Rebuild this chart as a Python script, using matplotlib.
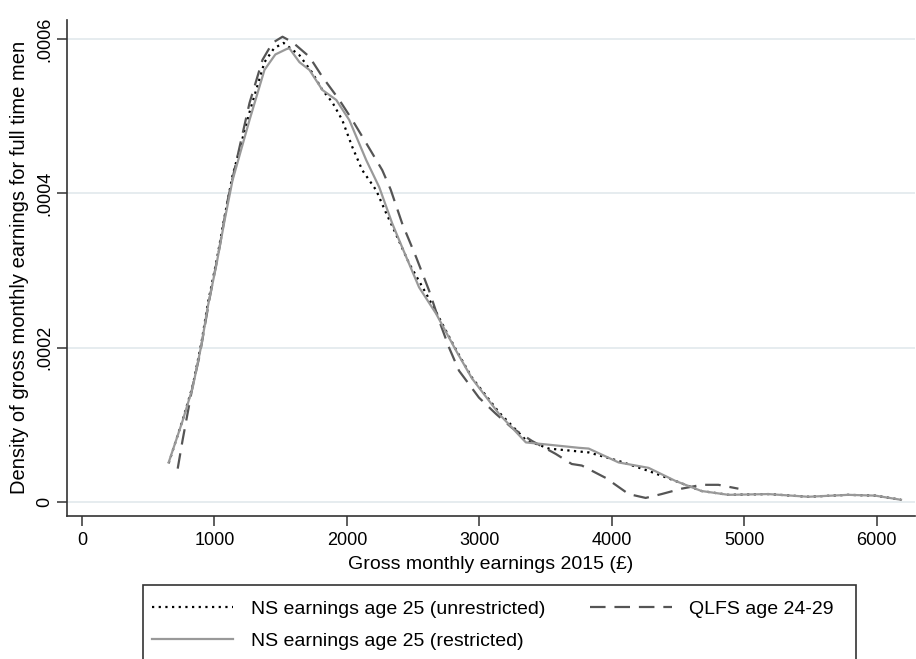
import matplotlib
matplotlib.use("Agg")
import matplotlib.pyplot as plt
from matplotlib.patches import Rectangle

plt.rcParams['font.family'] = ['Liberation Sans', 'DejaVu Sans']

# NS earnings age 25 (unrestricted) - dotted
unres_x = [655, 760, 836, 904, 949, 1017, 1077, 1137, 1265, 1378, 1450, 1522, 1642, 1740,
           1815, 1890, 1965, 2041, 2116, 2221, 2297, 2357, 2470, 2598, 2673, 2824, 2944,
           3148, 3351, 3524, 3825, 4051, 4277, 4480, 4676, 4880, 5181, 5482, 5783, 5987,
           6182]
unres_y = [5.0e-5, 1.06e-4, 1.50e-4, 2.08e-4, 2.56e-4, 3.13e-4, 3.70e-4, 4.23e-4, 5.05e-4,
           5.70e-4, 5.88e-4, 5.95e-4, 5.79e-4, 5.56e-4, 5.34e-4, 5.18e-4, 4.95e-4, 4.60e-4,
           4.30e-4, 4.04e-4, 3.74e-4, 3.52e-4, 3.09e-4, 2.70e-4, 2.46e-4, 1.97e-4, 1.61e-4,
           1.16e-4, 8.0e-5, 6.9e-5, 6.4e-5, 5.3e-5, 4.0e-5, 2.7e-5, 1.4e-5, 9e-6, 1.0e-5,
           6.5e-6, 9e-6, 8e-6, 2.6e-6]

# NS earnings age 25 (restricted) - solid grey
res_x = [655, 760, 836, 904, 949, 1017, 1077, 1137, 1265, 1378, 1460, 1544, 1566, 1642,
         1717, 1815, 1920, 2018, 2146, 2244, 2342, 2417, 2545, 2673, 2824, 2944, 3148,
         3351, 3524, 3750, 3825, 4051, 4277, 4480, 4676, 4880, 5181, 5482, 5783, 5987,
         6182]
res_y = [5.1e-5, 1.05e-4, 1.48e-4, 2.05e-4, 2.52e-4, 3.09e-4, 3.65e-4, 4.17e-4, 4.95e-4,
         5.60e-4, 5.80e-4, 5.87e-4, 5.88e-4, 5.70e-4, 5.60e-4, 5.34e-4, 5.21e-4, 4.95e-4,
         4.43e-4, 4.08e-4, 3.61e-4, 3.30e-4, 2.78e-4, 2.44e-4, 1.96e-4, 1.60e-4, 1.14e-4,
         7.7e-5, 7.4e-5, 7.0e-5, 6.9e-5, 5.1e-5, 4.4e-5, 2.7e-5, 1.4e-5, 9e-6, 1.0e-5,
         6.5e-6, 9e-6, 8e-6, 2.6e-6]

# QLFS age 24-29 - dashed
qlfs_x = [723, 760, 836, 889, 964, 1039, 1099, 1190, 1265, 1363, 1438, 1514, 1589, 1717,
          1815, 1943, 2041, 2146, 2267, 2330, 2417, 2523, 2620, 2696, 2771, 2846, 2997,
          3125, 3245, 3396, 3577, 3697, 3773, 3953, 4127, 4255, 4375, 4526, 4676, 4804,
          4955]
qlfs_y = [4.3e-5, 8.0e-5, 1.50e-4, 1.90e-4, 2.64e-4, 3.30e-4, 3.90e-4, 4.60e-4, 5.17e-4,
          5.73e-4, 5.95e-4, 6.03e-4, 5.96e-4, 5.77e-4, 5.51e-4, 5.21e-4, 4.95e-4, 4.65e-4,
          4.30e-4, 4.05e-4, 3.61e-4, 3.17e-4, 2.74e-4, 2.35e-4, 2.0e-4, 1.70e-4, 1.35e-4,
          1.14e-4, 9.6e-5, 7.9e-5, 6.2e-5, 4.9e-5, 4.7e-5, 3.1e-5, 1.0e-5, 5e-6, 1.0e-5,
          1.7e-5, 2.2e-5, 2.2e-5, 1.7e-5]

x_ticks = [0, 1000, 2000, 3000, 4000, 5000, 6000]
y_ticks = [0, 0.0002, 0.0004, 0.0006]
y_tick_labels = ['0', '.0002', '.0004', '.0006']

fig = plt.figure(figsize=(9.16, 6.59), dpi=100)
ax = fig.add_axes([0.0735, 0.2175, 0.925, 0.7525])

l1, = ax.plot(unres_x, unres_y, color='black', lw=1.6, linestyle=(0, (1, 2)),
              label='NS earnings age 25 (unrestricted)')
l3, = ax.plot(qlfs_x, qlfs_y, color='#555555', lw=1.6, linestyle=(0, (7, 4)),
              label='QLFS age 24-29')
l2, = ax.plot(res_x, res_y, color='#999999', lw=1.6,
              label='NS earnings age 25 (restricted)')

ax.set_xlim(-110, 6285)
ax.set_ylim(-1.8e-5, 6.25e-4)
ax.set_xticks(x_ticks)
ax.set_yticks(y_ticks)
ax.set_yticklabels(y_tick_labels, rotation=90, va='center')
ax.grid(axis='y', color='#e6ecef', lw=1.4)
ax.set_axisbelow(True)
for s in ['top', 'right']:
    ax.spines[s].set_visible(False)
for s in ['left', 'bottom']:
    ax.spines[s].set_color('#333333')
    ax.spines[s].set_linewidth(1.2)
ax.tick_params(labelsize=13, length=7, width=1.1, color='#333333')
ax.tick_params(axis='x', pad=5)
ax.tick_params(axis='y', pad=3)
ax.set_xlabel('Gross monthly earnings 2015 (£)', fontsize=14, labelpad=5)
ax.set_ylabel('Density of gross monthly earnings for full time men', fontsize=14.5,
              labelpad=5)

fig.legend(handles=[l1, l2, l3], loc='upper left', bbox_to_anchor=(0.157, 0.101),
           ncol=2, frameon=False, fontsize=14, handlelength=4.2,
           columnspacing=2.3, handletextpad=0.9, labelspacing=0.75,
           borderaxespad=0)
fig.patches.append(Rectangle((0.156, -0.05), 0.778, 0.162, transform=fig.transFigure,
                             fill=False, edgecolor='#333333', lw=1.2))

fig.savefig('out.png', dpi=100)
